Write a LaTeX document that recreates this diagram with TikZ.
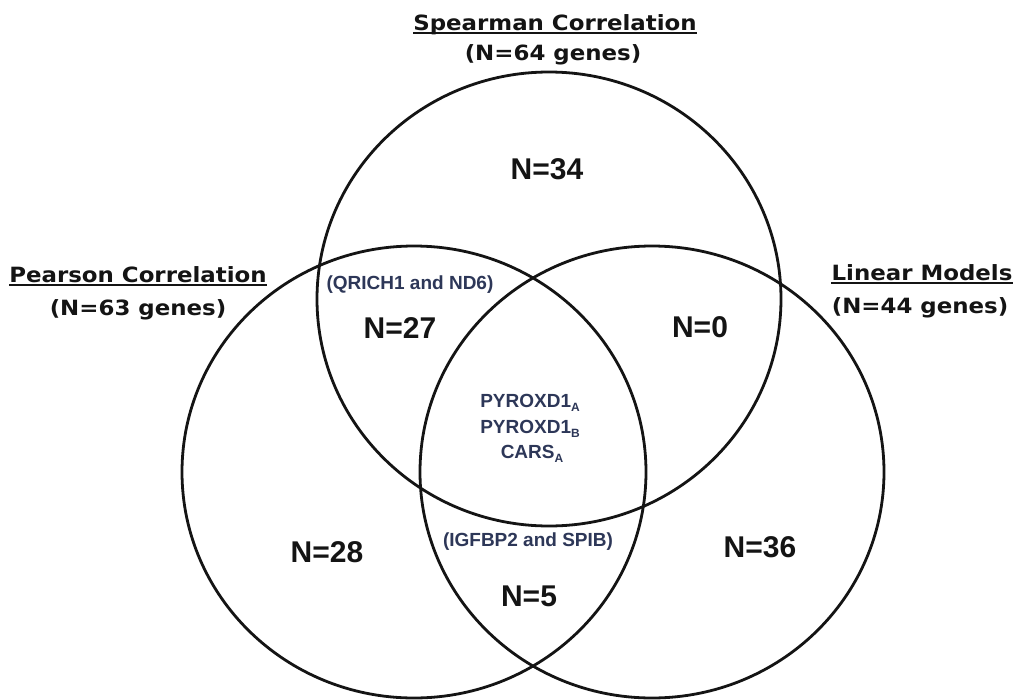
\documentclass[tikz,border=0pt]{standalone}
\usepackage{fontspec}
\setmainfont{Liberation Sans}
\newfontfamily\titlefont{DejaVu Sans}
\definecolor{lbl}{RGB}{45,55,88}
\definecolor{ink}{RGB}{20,20,20}
\newcommand\wide[1]{\scalebox{1.09}[1]{#1}}
\newcommand\gsub[1]{\raisebox{-4pt}{\fontsize{12}{12}\selectfont #1}}
\tikzset{
  venn/.style={draw=ink, line width=2.8pt},
  ttl/.style={inner sep=0pt, anchor=base, text=ink, font=\titlefont\bfseries\fontsize{21}{25}\selectfont},
  uline/.style={draw=ink, line width=2pt},
  cnt/.style={inner sep=0pt, anchor=base, text=ink, font=\bfseries\fontsize{30}{34}\selectfont},
  gene/.style={inner sep=0pt, anchor=base, text=lbl, font=\bfseries\fontsize{19}{22}\selectfont},
}
\begin{document}
\begin{tikzpicture}[x=1pt,y=-1pt]
\useasboundingbox (0,0) rectangle (1015,699);
\fill[white] (0,0) rectangle (1015,699);
% circles
\draw[venn] (549,299) ellipse [x radius=232pt, y radius=227pt];
\draw[venn] (414,472) ellipse [x radius=232pt, y radius=226pt];
\draw[venn] (652,472) ellipse [x radius=232pt, y radius=226pt];
% titles
\node[ttl] (spT) at (555,30) {\wide{Spearman Correlation}};
\draw[uline] ([yshift=-3pt]spT.base west) -- ([yshift=-3pt]spT.base east);
\node[ttl] (spN) at (553,60) {\wide{(N=64 genes)}};
\node[ttl] (peT) at (138,282) {\wide{Pearson Correlation}};
\draw[uline] ([yshift=-3pt]peT.base west) -- ([yshift=-3pt]peT.base east);
\node[ttl] (peN) at (138,315) {\wide{(N=63 genes)}};
\node[ttl] (liT) at (922,280) {\wide{Linear Models}};
\draw[uline] ([yshift=-3pt]liT.base west) -- ([yshift=-3pt]liT.base east);
\node[ttl] (liN) at (920,313) {\wide{(N=44 genes)}};
% counts
\node[cnt] (n34) at (547,179) {N=34};
\node[cnt] (n27) at (400,338) {N=27};
\node[cnt] (n0) at (700,337) {N=0};
\node[cnt] (n28) at (327,562) {N=28};
\node[cnt] (n36) at (760,557) {N=36};
\node[cnt] (n5) at (529,606) {N=5};
% gene labels
\node[gene] (qr) at (410,289) {(QRICH1 and ND6)};
\node[gene] (ig) at (528,546) {(IGFBP2 and SPIB)};
\node[gene] (p1) at (530,407) {PYROXD1\gsub{A}};
\node[gene] (p2) at (530,433) {PYROXD1\gsub{B}};
\node[gene] (c1) at (532,458) {CARS\gsub{A}};
\end{tikzpicture}
\end{document}
